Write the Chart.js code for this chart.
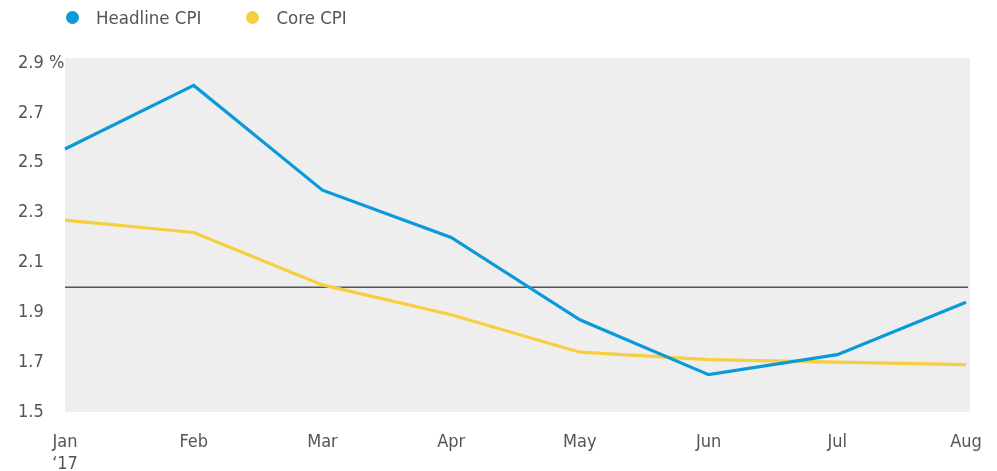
<!DOCTYPE html>
<html>
<head>
<meta charset="utf-8">
<script src="https://cdn.jsdelivr.net/npm/chart.js@4/dist/chart.umd.min.js"></script>
<style>
  html, body { margin: 0; padding: 0; background: #fff; }
  #wrap { position: relative; width: 997px; height: 471px; }
  #legend { position: absolute; left: 66px; top: 7px; font: 18.5px 'Liberation Sans Narrow', 'DejaVu Sans Condensed', sans-serif; color: #555; display: flex; }
  #legend span.item { display: flex; align-items: center; margin-right: 45px; }
  #legend span.dot { width: 13px; height: 13px; border-radius: 50%; display: inline-block; margin-right: 17px; }
  canvas { display: block; }
</style>
</head>
<body>
<div id="wrap">
  <canvas id="cpiChart" width="997" height="471"></canvas>
  <div id="legend"></div>
</div>
<script>
const months = ['Jan', 'Feb', 'Mar', 'Apr', 'May', 'Jun', 'Jul', 'Aug'];
const headlineCpi = [2.555, 2.81, 2.39, 2.20, 1.87, 1.65, 1.73, 1.94];
const coreCpi = [2.27, 2.22, 2.01, 1.89, 1.74, 1.71, 1.70, 1.69];
const yTicks = [1.5, 1.7, 1.9, 2.1, 2.3, 2.5, 2.7, 2.9];
const targetRate = 2.0;

const fontFamily = "'Liberation Sans Narrow', 'DejaVu Sans Condensed', sans-serif";
const textColor = '#555';

const series = [
  { label: 'Headline CPI', data: headlineCpi, color: '#0a9ad9' },
  { label: 'Core CPI', data: coreCpi, color: '#f6cf3f' }
];

// legend
const legendEl = document.getElementById('legend');
series.forEach(s => {
  const item = document.createElement('span');
  item.className = 'item';
  item.innerHTML = '<span class="dot" style="background:' + s.color + '"></span>' + s.label;
  legendEl.appendChild(item);
});

const plotBackground = {
  id: 'plotBackground',
  beforeDraw(chart) {
    const { ctx, chartArea } = chart;
    ctx.save();
    ctx.fillStyle = '#eeeeee';
    ctx.fillRect(chartArea.left, chartArea.top, chartArea.right - chartArea.left + 4, chartArea.bottom - chartArea.top);
    ctx.restore();
  },
  beforeDatasetsDraw(chart) {
    const { ctx, chartArea, scales } = chart;
    const y = scales.y.getPixelForValue(targetRate);
    ctx.save();
    ctx.strokeStyle = '#555';
    ctx.lineWidth = 1.5;
    ctx.beginPath();
    ctx.moveTo(chartArea.left, y);
    ctx.lineTo(chartArea.right + 2, y);
    ctx.stroke();
    ctx.restore();
  }
};

const ctx = document.getElementById('cpiChart').getContext('2d');
const cpiChart = new Chart(ctx, {
  type: 'line',
  data: {
    labels: months.map((m, i) => i === 0 ? [m, '\u201817'] : m),
    datasets: series.map(s => ({
      label: s.label,
      data: s.data,
      borderColor: s.color,
      backgroundColor: s.color,
      borderWidth: 3.2,
      pointRadius: 0,
      tension: 0
    }))
  },
  options: {
    responsive: false,
    animation: false,
    layout: { padding: { left: 18, right: 31, top: 58, bottom: 0 } },
    plugins: {
      legend: { display: false },
      tooltip: { enabled: false }
    },
    scales: {
      x: {
        offset: false,
        grid: { display: false },
        border: { display: false },
        afterFit: scale => { scale.height = 59; },
        ticks: {
          color: textColor,
          font: { family: fontFamily, size: 18 },
          padding: 12,
          maxRotation: 0,
          autoSkip: false
        }
      },
      y: {
        min: 1.5,
        max: 2.92,
        grid: { display: false },
        border: { display: false },
        afterBuildTicks: scale => { scale.ticks = yTicks.map(v => ({ value: v })); },
        afterFit: scale => { scale.width = 47; },
        ticks: {
          color: textColor,
          crossAlign: 'far',
          font: { family: fontFamily, size: 18 },
          callback: v => v === 2.9 ? '2.9 %' : v.toFixed(1)
        }
      }
    }
  },
  plugins: [plotBackground]
});
</script>
</body>
</html>
